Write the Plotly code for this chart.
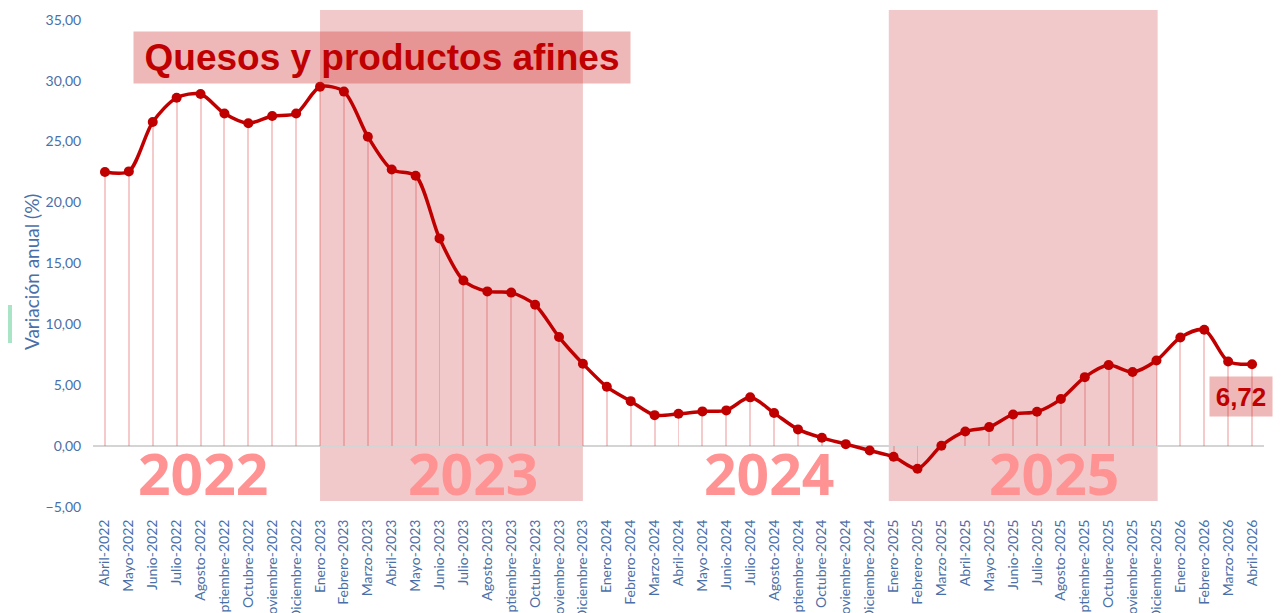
import plotly.graph_objects as go

# ---------- Data ----------
meses = [
    "Abril-2022", "Mayo-2022", "Junio-2022", "Julio-2022", "Agosto-2022",
    "Septiembre-2022", "Octubre-2022", "Noviembre-2022", "Diciembre-2022",
    "Enero-2023", "Febrero-2023", "Marzo-2023", "Abril-2023", "Mayo-2023",
    "Junio-2023", "Julio-2023", "Agosto-2023", "Septiembre-2023", "Octubre-2023",
    "Noviembre-2023", "Diciembre-2023",
    "Enero-2024", "Febrero-2024", "Marzo-2024", "Abril-2024", "Mayo-2024",
    "Junio-2024", "Julio-2024", "Agosto-2024", "Septiembre-2024", "Octubre-2024",
    "Noviembre-2024", "Diciembre-2024",
    "Enero-2025", "Febrero-2025", "Marzo-2025", "Abril-2025", "Mayo-2025",
    "Junio-2025", "Julio-2025", "Agosto-2025", "Septiembre-2025", "Octubre-2025",
    "Noviembre-2025", "Diciembre-2025",
    "Enero-2026", "Febrero-2026", "Marzo-2026", "Abril-2026",
]

variacion = [
    22.50, 22.55, 26.60, 28.60, 28.90, 27.30, 26.50, 27.10, 27.30,
    29.50, 29.10, 25.40, 22.70, 22.20, 17.05, 13.60, 12.70, 12.60, 11.60,
    8.95, 6.76,
    4.87, 3.69, 2.54, 2.65, 2.85, 2.93, 4.00, 2.71, 1.37, 0.68, 0.16, -0.36,
    -0.88, -1.86, 0.03, 1.20, 1.56, 2.60, 2.82, 3.86, 5.66, 6.65, 6.08, 7.03,
    8.92, 9.55, 6.95, 6.72,
]

titulo = "Quesos y productos afines"
eje_y = "Variación anual (%)"
anios = ["2022", "2023", "2024", "2025"]
anios_x = [4.1, 15.4, 27.8, 39.7]
bandas = [(9.0, 20.0), (32.8, 44.05)]

ROJO = "#C00000"
AZUL = "#4A6FA8"
CAJA = "rgba(205,40,40,0.33)"
ARIAL = 'Arial, "Liberation Sans", sans-serif'

# ---------- Figure ----------
fig = go.Figure()

# thin stems from zero to each value
fig.add_trace(go.Bar(
    x=meses,
    y=variacion,
    width=0.08,
    marker=dict(color="rgba(220,80,80,0.3)", line=dict(width=0)),
    hoverinfo="skip",
    showlegend=False
))

fig.add_trace(go.Scatter(
    x=meses,
    y=variacion,
    mode="lines+markers",
    line=dict(color=ROJO, width=3.5, shape="spline", smoothing=0.8),
    marker=dict(color=ROJO, size=10),
    showlegend=False
))

for x0, x1 in bandas:
    fig.add_shape(
        type="rect", xref="x", yref="y",
        x0=x0, x1=x1, y0=-4.5, y1=35.8,
        fillcolor="rgba(205,40,45,0.25)", line=dict(width=0),
        layer="below"
    )

for txt, xp in zip(anios, anios_x):
    fig.add_annotation(
        x=xp, y=-2.2, xref="x", yref="y",
        text=f"<b>{txt}</b>", showarrow=False,
        font=dict(family="Open Sans", size=57, color="#FF9393")
    )

fig.add_annotation(
    x=0.2468, y=0.9044, xref="paper", yref="paper",
    xanchor="center", yanchor="middle",
    text=f"<b>{titulo}</b>", showarrow=False,
    width=496, height=51, borderpad=0, bgcolor=CAJA,
    font=dict(family=ARIAL, size=37, color=ROJO)
)

# last value label, pinned to the right edge
fig.add_annotation(
    x=1.0077, y=4.05, xref="paper", yref="y",
    xanchor="right", yanchor="middle",
    text="<b>" + f"{variacion[-1]:.2f}".replace(".", ",") + "</b>",
    showarrow=False, width=62, height=39, borderpad=0, bgcolor=CAJA,
    font=dict(family=ARIAL, size=26, color=ROJO)
)

# y-axis title placed as an annotation so it can sit a little low, as in the original
fig.add_annotation(
    x=-0.0529, y=0.4728, xref="paper", yref="paper",
    xanchor="center", yanchor="middle", textangle=-90,
    text=eje_y, showarrow=False,
    font=dict(family="Lato", size=19, color=AZUL)
)

# small green mark on the left edge
fig.add_shape(
    type="rect", xref="paper", yref="paper",
    x0=-85 / 1171, x1=-81 / 1171, y0=(507 - 343) / 497, y1=(507 - 305) / 497,
    fillcolor="#A9E4C6", line=dict(width=0)
)

fig.update_layout(
    width=1273,
    height=605,
    margin=dict(l=85, r=17, t=2, b=106),
    plot_bgcolor="white",
    paper_bgcolor="white",
    separators=",.",
    bargap=0,
    font=dict(family="Lato", color=AZUL),
    xaxis=dict(
        type="category",
        range=[-0.5, len(meses) - 0.5],
        tickangle=-90,
        tickfont=dict(size=14, color=AZUL),
        showgrid=False,
        ticks="outside", ticklen=6, tickcolor="rgba(0,0,0,0)",
        automargin=False
    ),
    yaxis=dict(
        range=[-5, 35.8],
        tickvals=[-5, 0, 5, 10, 15, 20, 25, 30, 35],
        tickformat=".2f",
        tickfont=dict(size=14, color=AZUL),
        showgrid=False,
        zeroline=True, zerolinecolor="#D4D4D4", zerolinewidth=2,
        ticks="outside", ticklen=8, tickcolor="rgba(0,0,0,0)",
        automargin=False
    )
)

fig.write_html("out.html")
